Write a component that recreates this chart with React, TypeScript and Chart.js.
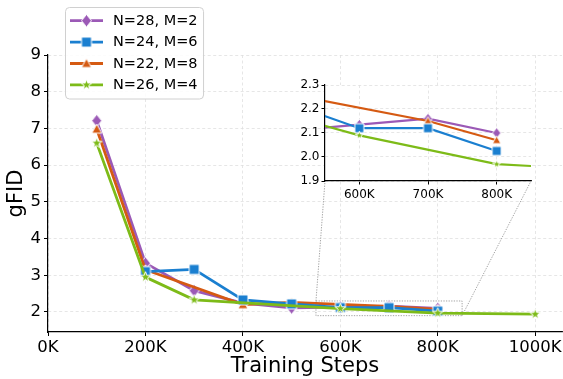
import React, { useEffect, useRef } from 'react';
import { Chart, registerables } from 'chart.js';

Chart.register(...registerables);

// ---------- data ----------
const steps = [100, 200, 300, 400, 500, 600, 700, 800, 1000]; // K
const seriesLabels = ['N=28, M=2', 'N=24, M=6', 'N=22, M=8', 'N=26, M=4'];
const fidN28M2 = [7.21, 3.33, 2.58, 2.24, 2.11, 2.135, 2.16, 2.1, null];
const fidN24M6 = [null, 3.1, 3.16, 2.33, 2.22, 2.12, 2.12, 2.025, null];
const fidN22M8 = [6.98, 3.15, null, 2.2, 2.26, null, 2.15, 2.07, null];
const fidN26M4 = [6.6, 2.95, 2.33, null, null, 2.09, null, 1.97, 1.94];

const mainXTicks = [0, 200, 400, 600, 800, 1000];
const mainYTicks = [2, 3, 4, 5, 6, 7, 8, 9];
const mainXRange = [0, 1055];
const mainYRange = [1.455, 9];
const insetXTicks = [600, 700, 800];
const insetYTicks = [1.9, 2.0, 2.1, 2.2, 2.3];
const insetXRange = [550, 850];
const insetYRange = [1.9, 2.3];

// ---------- styles ----------
const colors = ['#9b59b6', '#1a7fd0', '#d55a12', '#7dbb18'];
const shapes = ['diamond', 'square', 'triangle', 'star'];
const mainSizes = [12.5, 10, 10, 11];
const insetSizes = [10.5, 9, 8.5, 8.5];
const FONT = "'DejaVu Sans', sans-serif";

const W = 563;
const H = 379;
const INSET = { left: 291, top: 73, width: 255, height: 135 };

function markerCanvas(shape: string, size: number, color: string, edge = 1): HTMLCanvasElement {
  const pad = edge + 1;
  const dim = Math.ceil(size + 2 * pad);
  const c = document.createElement('canvas');
  c.width = dim;
  c.height = dim;
  const ctx = c.getContext('2d')!;
  const cx = dim / 2;
  const cy = dim / 2;
  const r = size / 2;
  ctx.beginPath();
  if (shape === 'diamond') {
    ctx.moveTo(cx, cy - r);
    ctx.lineTo(cx + r * 0.8, cy);
    ctx.lineTo(cx, cy + r);
    ctx.lineTo(cx - r * 0.8, cy);
  } else if (shape === 'square') {
    ctx.rect(cx - r, cy - r, size, size);
  } else if (shape === 'triangle') {
    ctx.moveTo(cx, cy - r);
    ctx.lineTo(cx + r, cy + r * 0.8);
    ctx.lineTo(cx - r, cy + r * 0.8);
  } else {
    for (let i = 0; i < 10; i++) {
      const a = -Math.PI / 2 + (i * Math.PI) / 5;
      const rr = i % 2 ? r * 0.42 : r;
      const px = cx + rr * Math.cos(a);
      const py = cy + rr * Math.sin(a);
      if (i === 0) ctx.moveTo(px, py);
      else ctx.lineTo(px, py);
    }
  }
  ctx.closePath();
  ctx.fillStyle = color;
  ctx.fill();
  ctx.lineWidth = edge;
  ctx.strokeStyle = '#ffffff';
  ctx.stroke();
  return c;
}

function toPoints(vals: (number | null)[]) {
  return steps
    .map((s, i) => ({ x: s, y: vals[i] }))
    .filter((p) => p.y !== null) as { x: number; y: number }[];
}

const allSeries = [fidN28M2, fidN24M6, fidN22M8, fidN26M4];
const drawOrder = [3, 1, 2, 0];

function makeDatasets(sizes: number[], lw: number) {
  return allSeries.map((vals, i) => ({
    label: seriesLabels[i],
    data: toPoints(vals),
    borderColor: colors[i],
    backgroundColor: colors[i],
    borderWidth: lw,
    pointStyle: markerCanvas(shapes[i], sizes[i], colors[i]) as any,
    pointRadius: 3,
    tension: 0,
    order: drawOrder[i],
  }));
}

export default function App() {
  const mainRef = useRef<HTMLCanvasElement>(null);
  const insetRef = useRef<HTMLCanvasElement>(null);

  useEffect(() => {
    const gridColor = '#e0e0e0';

    const axisX = (range: number[], ticksArr: number[], h: number, fs: number, tl: number, pad: number, title?: string) => ({
      type: 'linear' as const,
      min: range[0],
      max: range[1],
      afterBuildTicks: (s: any) => {
        s.ticks = ticksArr.map((value) => ({ value }));
      },
      afterFit: (s: any) => {
        s.height = h;
        s.paddingLeft = 0;
        s.paddingRight = 0;
        s.paddingTop = 0;
        s.paddingBottom = 0;
      },
      grid: { color: gridColor, lineWidth: 0.8, tickColor: '#000', tickLength: tl, tickWidth: 1, tickBorderDash: [] },
      border: { color: '#000', width: 1.2, dash: [3, 2.5] },
      ticks: { color: '#000', font: { family: FONT, size: fs }, padding: pad, maxRotation: 0, autoSkip: false, callback: (v: any) => v + 'K' },
      title: title
        ? { display: true, text: title, color: '#000', font: { family: FONT, size: 21 }, padding: { top: 0, bottom: 0 } }
        : { display: false },
    });

    const axisY = (range: number[], ticksArr: number[], w: number, fs: number, tl: number, pad: number, fmt: (v: number) => string, title?: string) => ({
      type: 'linear' as const,
      min: range[0],
      max: range[1],
      afterBuildTicks: (s: any) => {
        s.ticks = ticksArr.map((value) => ({ value }));
      },
      afterFit: (s: any) => {
        s.width = w;
        s.paddingLeft = 0;
        s.paddingRight = 0;
        s.paddingTop = 0;
        s.paddingBottom = 0;
      },
      grid: { color: gridColor, lineWidth: 0.8, tickColor: '#000', tickLength: tl, tickWidth: 1, tickBorderDash: [] },
      border: { color: '#000', width: 1.2, dash: [3, 2.5] },
      ticks: { color: '#000', font: { family: FONT, size: fs }, padding: pad, autoSkip: false, callback: (v: any) => fmt(Number(v)) },
      title: title
        ? { display: true, text: title, color: '#000', font: { family: FONT, size: 21 }, padding: { top: 4, bottom: 0 } }
        : { display: false },
    });

    // ---- inset ----
    const insetBg = {
      id: 'insetBg',
      beforeDraw(chart: any) {
        const { ctx, chartArea: a } = chart;
        ctx.save();
        ctx.fillStyle = '#ffffff';
        ctx.fillRect(a.left, a.top, a.right - a.left, a.bottom - a.top);
        ctx.restore();
      },
    };

    const inset = new Chart(insetRef.current!, {
      type: 'line',
      data: { datasets: makeDatasets(insetSizes, 2.2) as any },
      options: {
        responsive: false,
        animation: false,
        events: [],
        layout: { autoPadding: false, padding: { top: 12, right: 15, left: 0, bottom: 0 } },
        plugins: { legend: { display: false }, tooltip: { enabled: false } },
        scales: {
          x: axisX(insetXRange, insetXTicks, 27, 12, 3.5, 3) as any,
          y: axisY(insetYRange, insetYTicks, 34, 12, 3.5, 2, (v) => v.toFixed(1)) as any,
        },
      },
      plugins: [insetBg],
    });

    // ---- main ----
    const zoomDecor = {
      id: 'zoomDecor',
      beforeDatasetsDraw(chart: any) {
        const { ctx } = chart;
        const xs = chart.scales.x;
        const ys = chart.scales.y;
        const x0 = xs.getPixelForValue(insetXRange[0]);
        const x1 = xs.getPixelForValue(insetXRange[1]);
        const y0 = ys.getPixelForValue(insetYRange[0]);
        const y1 = ys.getPixelForValue(insetYRange[1]);
        const ia = inset.chartArea;
        const il = INSET.left + ia.left;
        const ir = INSET.left + ia.right;
        const ib = INSET.top + ia.bottom;
        ctx.save();
        ctx.strokeStyle = '#9a9a9a';
        ctx.lineWidth = 0.9;
        ctx.setLineDash([1.3, 1.3]);
        ctx.strokeRect(x0, y1, x1 - x0, y0 - y1);
        ctx.beginPath();
        ctx.moveTo(x0, y1);
        ctx.lineTo(il, ib);
        ctx.moveTo(x1, y0);
        ctx.lineTo(ir, ib);
        ctx.stroke();
        ctx.restore();
      },
    };

    const legendMarkers = shapes.map((s, i) => markerCanvas(s, mainSizes[i], colors[i]));
    const customLegend = {
      id: 'customLegend',
      afterDraw(chart: any) {
        const { ctx } = chart;
        ctx.save();
        ctx.font = `14.5px ${FONT}`;
        const textX = 113;
        const maxW = Math.max(...seriesLabels.map((l) => ctx.measureText(l).width));
        const bx = 65.5;
        const by = 7.5;
        const bw = textX + maxW + 6 - bx;
        const bh = 91.5;
        const r = 4;
        ctx.beginPath();
        ctx.moveTo(bx + r, by);
        ctx.lineTo(bx + bw - r, by);
        ctx.arcTo(bx + bw, by, bx + bw, by + r, r);
        ctx.lineTo(bx + bw, by + bh - r);
        ctx.arcTo(bx + bw, by + bh, bx + bw - r, by + bh, r);
        ctx.lineTo(bx + r, by + bh);
        ctx.arcTo(bx, by + bh, bx, by + bh - r, r);
        ctx.lineTo(bx, by + r);
        ctx.arcTo(bx, by, bx + r, by, r);
        ctx.closePath();
        ctx.fillStyle = 'rgba(255,255,255,0.85)';
        ctx.fill();
        ctx.strokeStyle = '#d0d0d0';
        ctx.lineWidth = 1;
        ctx.stroke();
        seriesLabels.forEach((label, i) => {
          const y = 20.7 + i * 21.4;
          ctx.strokeStyle = colors[i];
          ctx.lineWidth = 2.8;
          ctx.beginPath();
          ctx.moveTo(70, y);
          ctx.lineTo(103, y);
          ctx.stroke();
          const m = legendMarkers[i];
          ctx.drawImage(m, 86.5 - m.width / 2, y - m.height / 2);
          ctx.fillStyle = '#000';
          ctx.textBaseline = 'middle';
          ctx.textAlign = 'left';
          ctx.fillText(label, textX, y + 0.5);
        });
        ctx.restore();
      },
    };

    const main = new Chart(mainRef.current!, {
      type: 'line',
      data: { datasets: makeDatasets(mainSizes, 2.8) as any },
      options: {
        responsive: false,
        animation: false,
        events: [],
        layout: { autoPadding: false, padding: { top: 55, right: 1, left: 0, bottom: 0 } },
        plugins: { legend: { display: false }, tooltip: { enabled: false } },
        scales: {
          x: axisX(mainXRange, mainXTicks, 47, 16.5, 4, 2, 'Training Steps') as any,
          y: axisY(mainYRange, mainYTicks, 48, 16.5, 4, 3, (v) => String(v), 'gFID') as any,
        },
      },
      plugins: [zoomDecor, customLegend],
    });

    return () => {
      main.destroy();
      inset.destroy();
    };
  }, []);

  return (
    <div style={{ position: 'fixed', left: 0, top: 0, width: W, height: H, background: '#fff' }}>
      <canvas ref={mainRef} width={W} height={H} style={{ position: 'absolute', left: 0, top: 0, width: W, height: H }} />
      <canvas
        ref={insetRef}
        width={INSET.width}
        height={INSET.height}
        style={{ position: 'absolute', left: INSET.left, top: INSET.top, width: INSET.width, height: INSET.height }}
      />
    </div>
  );
}
